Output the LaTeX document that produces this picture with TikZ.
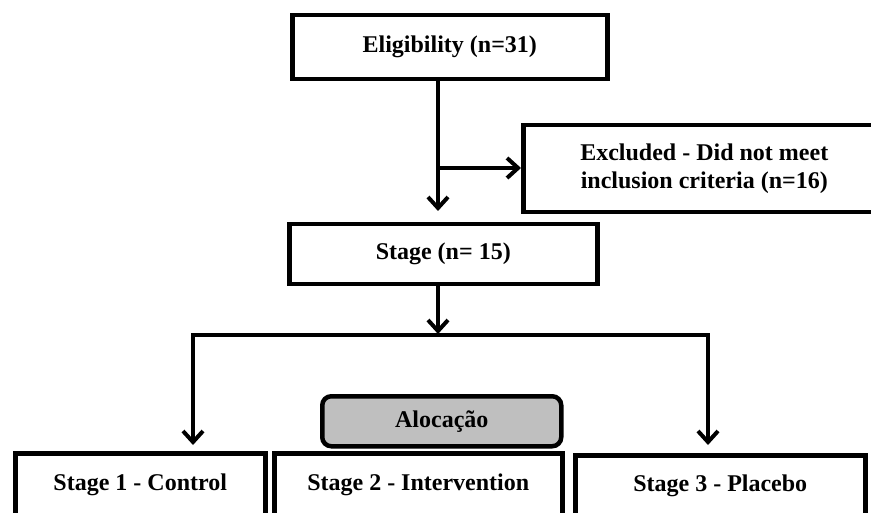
\documentclass[tikz,border=0pt]{standalone}
\usepackage{fontspec}
\setmainfont{Liberation Serif}
\usepackage{tikz}
\usetikzlibrary{arrows.meta,positioning}
\tikzstyle{sbox}=[draw=black, line width=4.5pt, fill=white, inner sep=0pt, align=center, font=\bfseries\fontsize{24}{28}\selectfont]
\tikzstyle{gbox}=[sbox, fill=black!25, rounded corners=9pt]
\tikzstyle{arr}=[-{Straight Barb[length=11pt,width=20pt,line width=4pt]}, line width=4pt]
\tikzstyle{ln}=[line width=4pt]

\begin{document}
\begin{tikzpicture}[x=1pt, y=-1pt]
\path[use as bounding box, clip] (0,0) rectangle (871,513);
%
  \node[sbox, anchor=north west, minimum width=315pt, minimum height=64pt] (elig) at (290,13) {Eligibility (n=31)};
  \node[sbox, anchor=north west, minimum width=362pt, minimum height=87pt] (excl) at (521,123) {Excluded - Did not meet\\inclusion criteria (n=16)};
  \node[sbox, anchor=north west, minimum width=308pt, minimum height=60pt] (stage) at (287,222) {Stage (n= 15)};
  \node[gbox, anchor=north west, minimum width=239pt, minimum height=50pt] (aloc) at (320,394) {Alocação};
  \node[sbox, anchor=north west, minimum width=250pt, minimum height=64pt] (s1) at (13,451) {Stage 1 - Control};
  \node[sbox, anchor=north west, minimum width=288pt, minimum height=64pt] (s2) at (272,451) {Stage 2 - Intervention};
  \node[sbox, anchor=north west, minimum width=290pt, minimum height=62pt] (s3) at (573,453) {Stage 3 - Placebo};
%
  \coordinate (split) at (438,168);
  \coordinate (fork) at (438,335);
  \coordinate (forkl) at (193,335);
  \coordinate (forkr) at (708,335);
%
  \draw[ln] (elig.south -| split) -- (split);
  \draw[arr, shorten >=11pt] (split) -- (stage.north -| split);
  \draw[arr] (split) -- (excl.west |- split);
  \draw[arr, shorten >=1pt] (stage.south -| fork) -- (fork);
  \draw[arr, shorten >=6pt] (fork) -- (forkl) -- (s1.north -| forkl);
  \draw[arr, shorten >=8pt] (fork) -- (forkr) -- (s3.north -| forkr);
%
\end{tikzpicture}
\end{document}
